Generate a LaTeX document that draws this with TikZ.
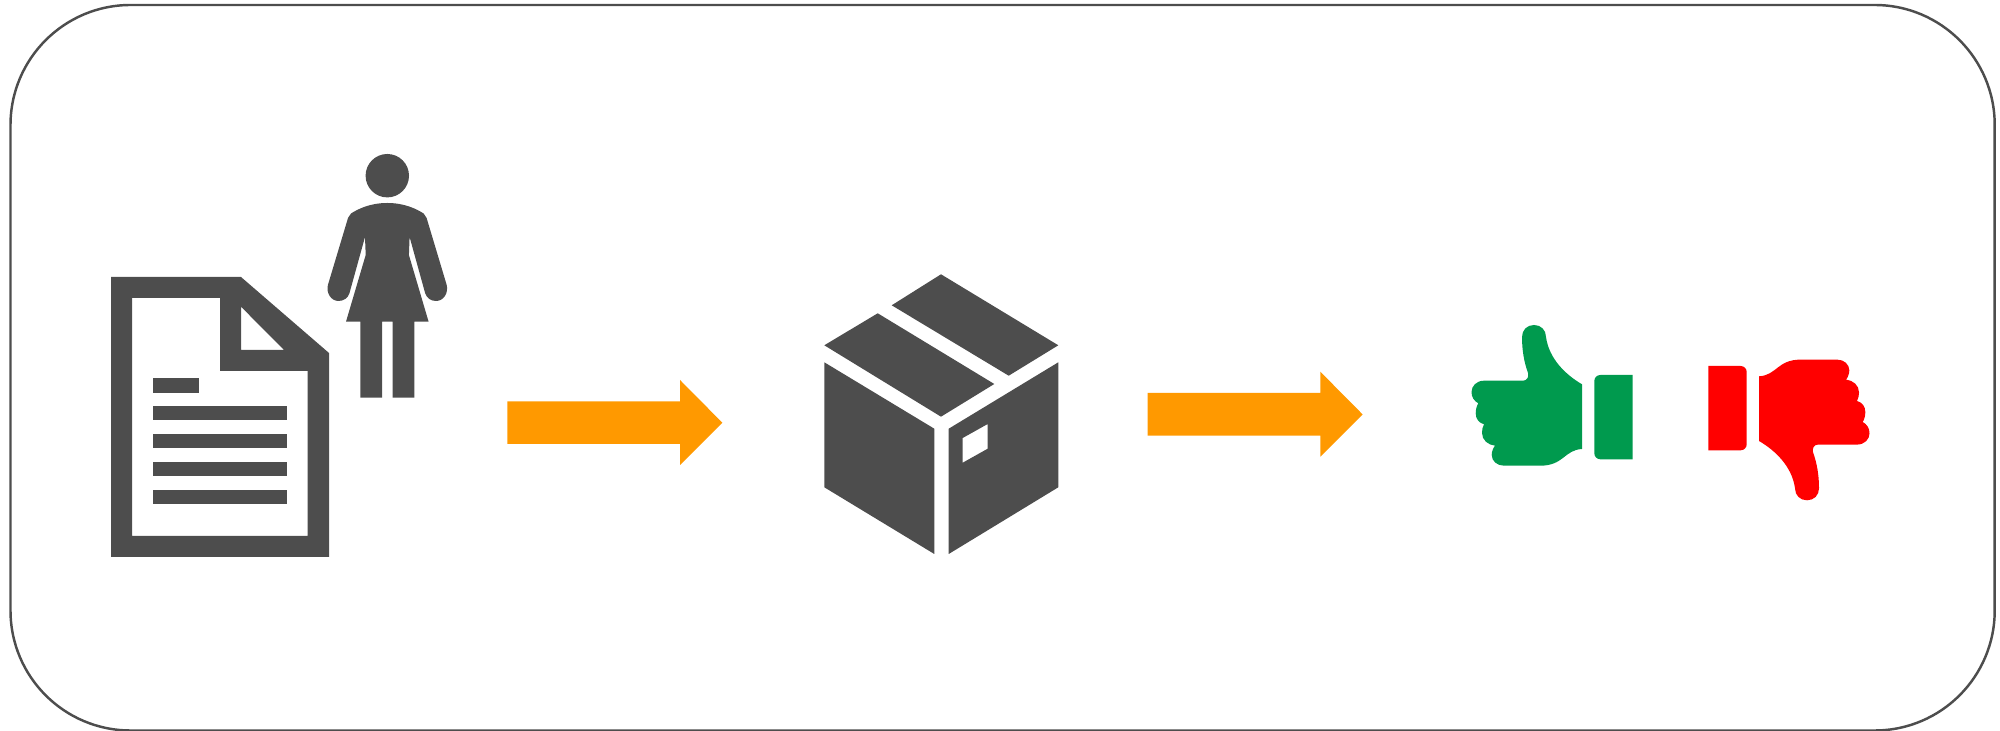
\documentclass[tikz,border=0pt]{standalone}
\usepackage{tikz}

\definecolor{icongray}{HTML}{4D4D4D}
\definecolor{arroworange}{HTML}{FF9900}
\definecolor{thumbgreen}{HTML}{009A4E}
\definecolor{thumbred}{HTML}{FF0000}

\tikzset{
  icon/.style={fill=icongray, even odd rule},
  flow/.style={fill=arroworange}
}

\newcommand{\thumbicon}{
  \fill[rounded corners=0.06cm] (1632.7,375) -- (1594.3,375) -- (1594.3,459.3) -- (1632.7,459.3);
  \fill (1582,384.3) .. controls (1566,375) and (1549,359) .. (1546,337)
    .. controls (1546,330) and (1541,325) .. (1534,325)
    .. controls (1527,325) and (1522,330) .. (1522,337)
    .. controls (1522,350) and (1524,362) .. (1528,373)
    .. controls (1529,377) and (1527,380.7) .. (1523,380.7)
    -- (1484,380.7) .. controls (1476.5,380.7) and (1471.5,386) .. (1471.5,392)
    .. controls (1471.5,397) and (1474,401) .. (1478.3,403.3)
    .. controls (1476.5,406) and (1475.7,410) .. (1475.7,413.3)
    .. controls (1475.7,419) and (1479,423) .. (1484,424.3)
    .. controls (1482.5,427) and (1482,430) .. (1482,433)
    .. controls (1482,440) and (1488,445) .. (1495,445.7)
    .. controls (1493,448) and (1491.7,452) .. (1491.7,455)
    .. controls (1491.7,461) and (1497,465.7) .. (1504,465.7)
    -- (1540,465.7) .. controls (1564,465.7) and (1564,450) .. (1582,449) -- cycle;
}

\begin{document}
\begin{tikzpicture}[x=0.01cm, y=-0.01cm]
        \useasboundingbox (0,0) rectangle (2000,731);

        % Frame
        \draw[icongray, line width=0.7pt, rounded corners=1.2cm] (10.5,5) rectangle (1994.7,730.5);

        % Document
        \fill[icon] (111,277) -- (241,277) -- (329,353) -- (329,557) -- (111,557) -- cycle
            (132,298) -- (220,298) -- (220,371) -- (307.7,371) -- (307.7,536) -- (132,536) -- cycle
            (241,306.7) -- (284,350) -- (241,350) -- cycle;
        \fill[icon] (153.3,378) rectangle (199,392.7);
        \foreach \liney in {406,434,462,490}
            \fill[icon] (153.3,\liney) rectangle (286.5,\liney+14);

        % Person
        \fill[icon] (387.3,175.7) circle (0.217cm);
        \fill[icon] (387.3,203) .. controls (370,203) and (358,209) .. (351,213.5)
            .. controls (349,215) .. (348,218) -- (327.9,285)
            .. controls (326,293) and (331,301) .. (338.5,301)
            .. controls (344,301) and (348,298) .. (349.5,293)
            -- (365,237) -- (365.7,255) -- (346,321.7) -- (360.3,321.7) -- (360.3,397.7)
            -- (382,397.7) -- (382,321.7) -- (392.7,321.7) -- (392.7,397.7) -- (414.3,397.7)
            -- (414.3,321.7) -- (428.6,321.7) -- (408.9,255) -- (409.6,237) -- (425.1,293)
            .. controls (426.6,298) and (430.6,301) .. (436.1,301)
            .. controls (443.6,301) and (448.6,293) .. (446.7,285)
            -- (426.6,218) .. controls (425.6,215) .. (423.6,213.5)
            .. controls (416.6,209) and (404.6,203) .. (387.3,203) -- cycle;

        % Arrows
        \foreach \dx/\dy in {0/0, 640.3/-8.3}
            \fill[flow] (507.3+\dx,401.3+\dy) -- (680+\dx,401.3+\dy) -- (680+\dx,380+\dy)
                -- (722.3+\dx,422.7+\dy) -- (680+\dx,465+\dy) -- (680+\dx,444+\dy)
                -- (507.3+\dx,444+\dy) -- cycle;

        % Box
        \fill[icon] (941,274.3) -- (1058.3,345.3) -- (1008.7,375.7) -- (891.7,305.3) -- cycle;
        \fill[icon] (877.7,313.3) -- (994.3,384) -- (941,416.7) -- (824.3,345.3) -- cycle;
        \fill[icon] (824.3,362.3) -- (934.3,428.7) -- (934.3,554) -- (824.3,487.3) -- cycle;
        \fill[icon] (948.7,428.7) -- (1058.3,362.3) -- (1058.3,487.3) -- (948.7,554) -- cycle
            (962.7,438) -- (987.7,424) -- (987.7,448.7) -- (962.7,462.7) -- cycle;

        % Thumbs
        \begin{scope}[thumbgreen]
            \thumbicon
        \end{scope}
        \begin{scope}[thumbred, shift={(3341,825.3)}, xscale=-1, yscale=-1]
            \thumbicon
        \end{scope}
    \end{tikzpicture}
\end{document}
